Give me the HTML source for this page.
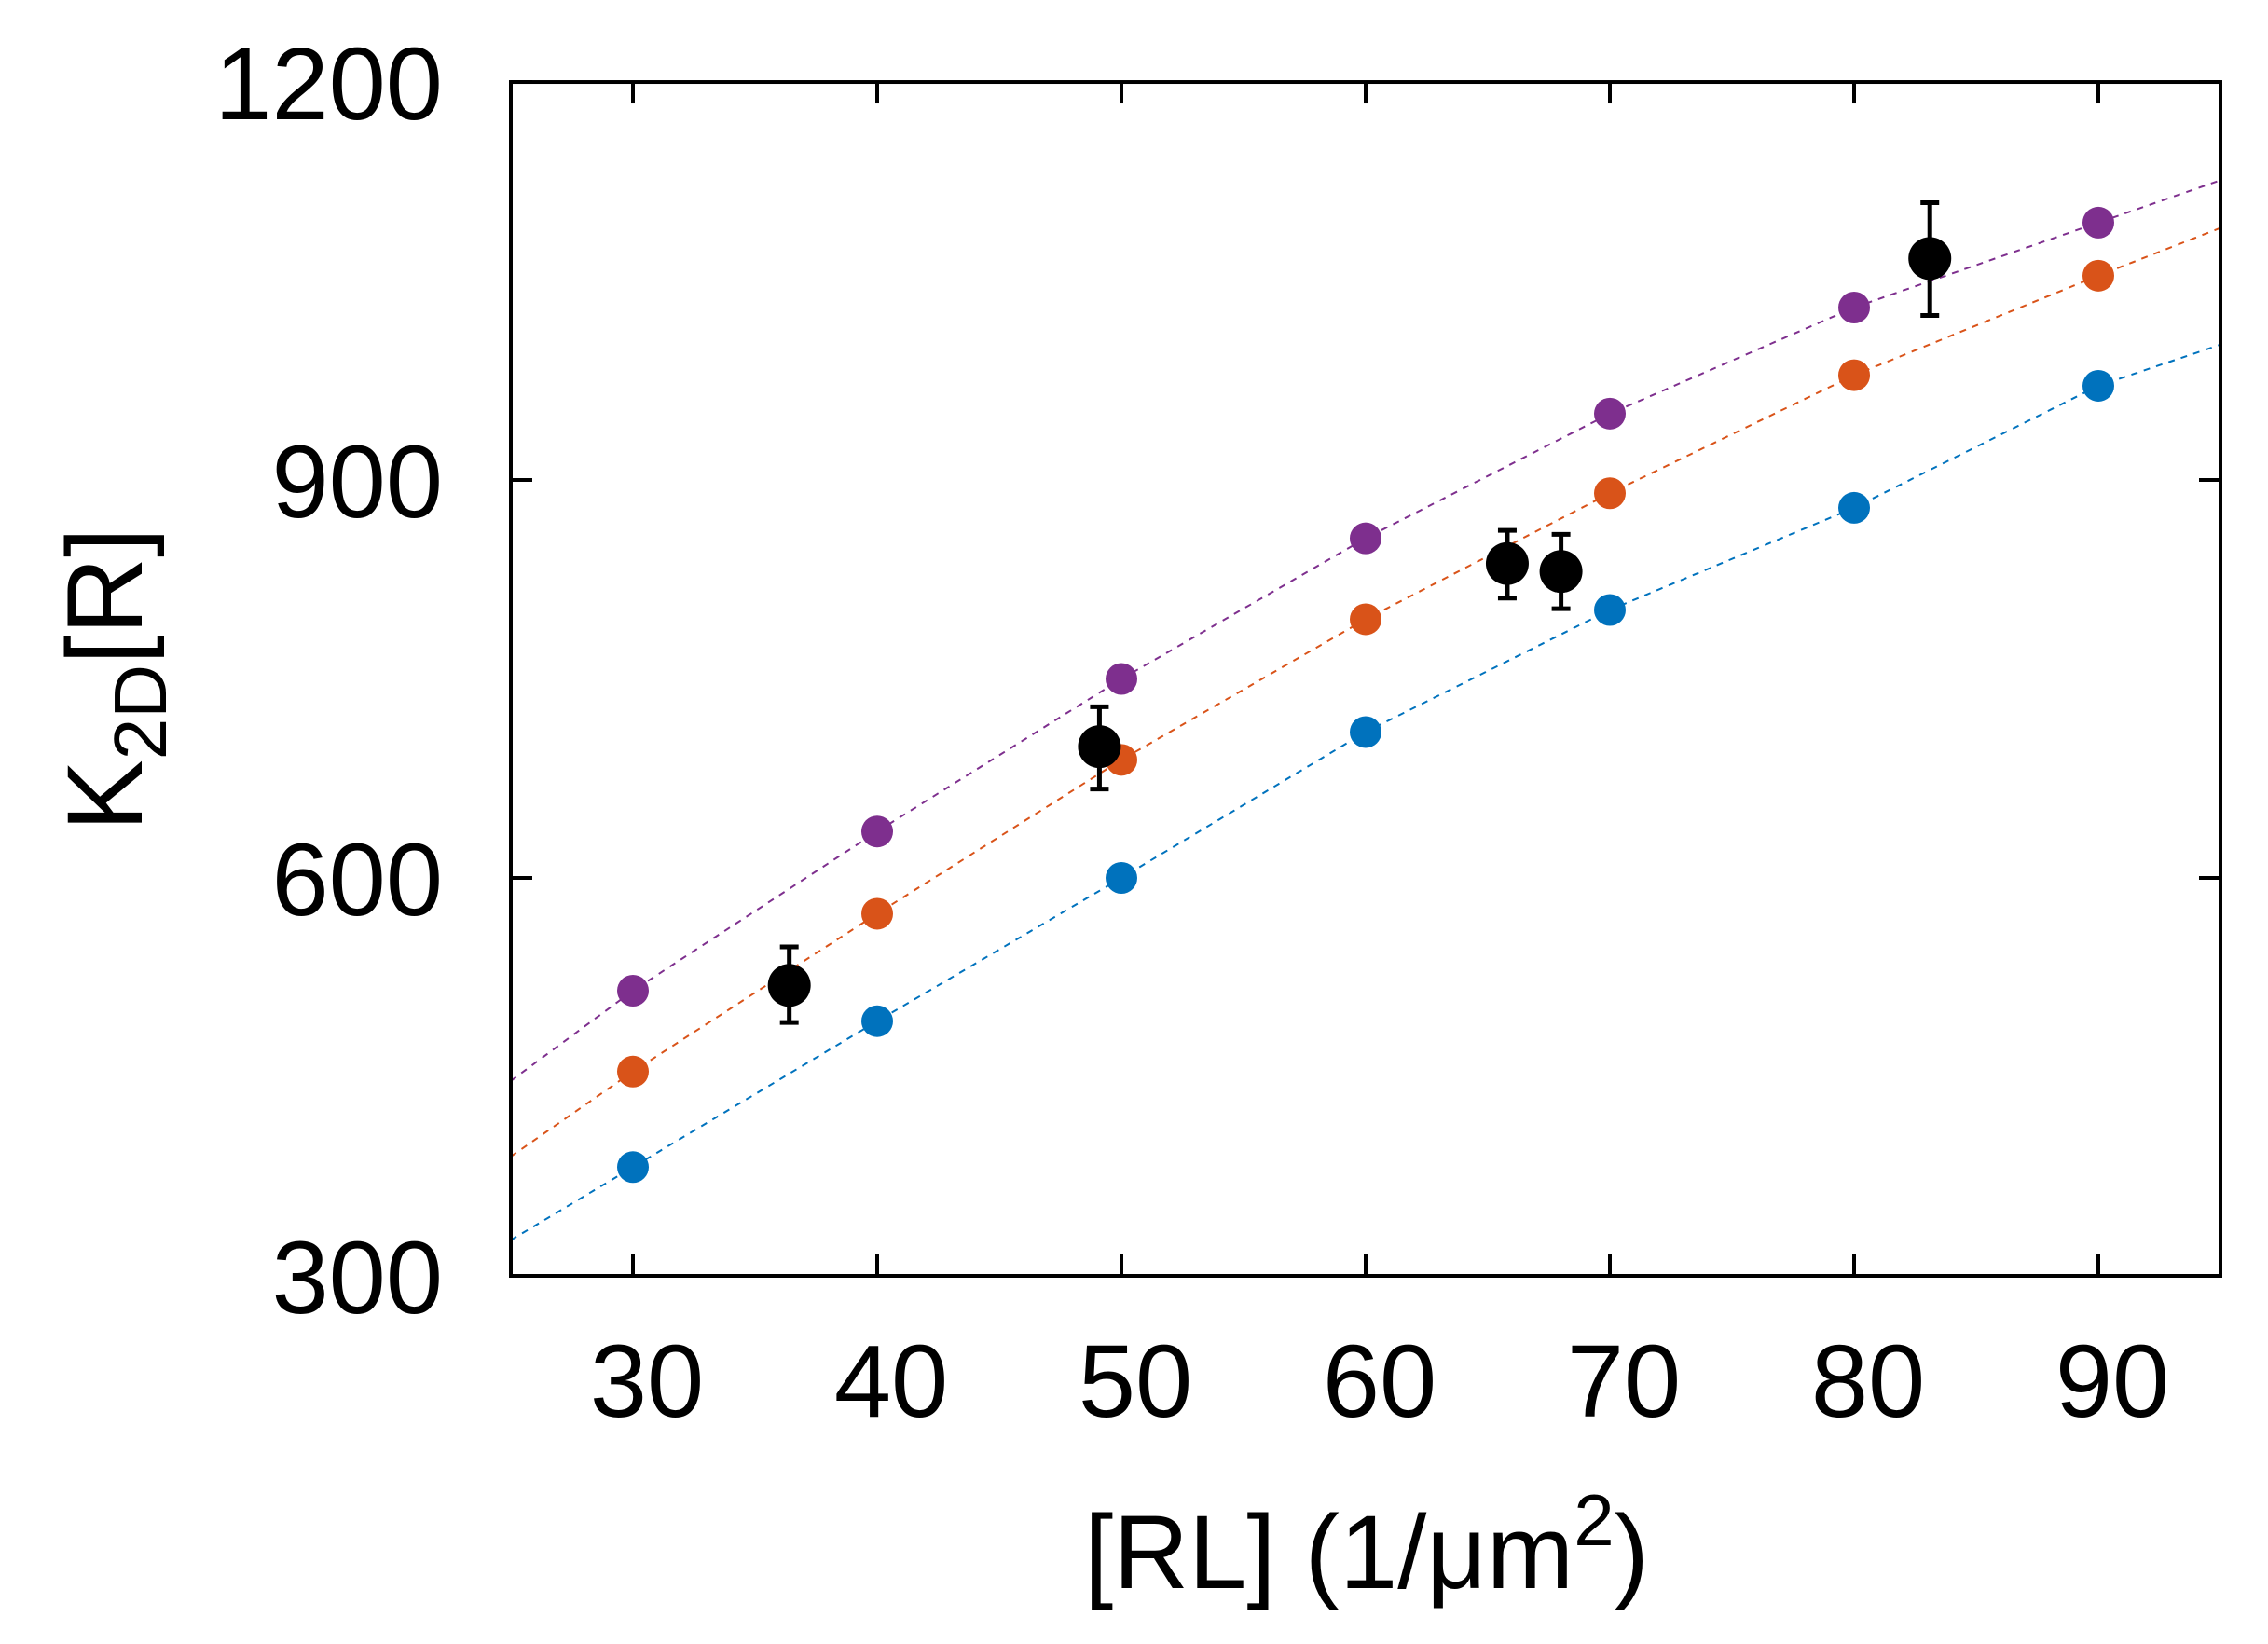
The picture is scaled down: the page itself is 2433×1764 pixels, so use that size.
<!DOCTYPE html>
<html><head><meta charset="utf-8"><style>
html,body{margin:0;padding:0;background:#fff;}
svg{display:block;}
text{font-family:"Liberation Sans",sans-serif;fill:#000;}
</style></head><body>
<svg id="s" width="2433" height="1764" viewBox="0 0 2433 1764" xmlns="http://www.w3.org/2000/svg"></svg>
<script>
const s=document.getElementById('s');
const X=v=>548+(v-25)*26.2, Y=v=>1369-(v-300)*1.4233;
let h='';
const xs=[30,40,50,60,70,80,90];
const P=[['#7E2F8E',[447,515,635,750,856,950,1030,1094,1126]],
['#D95319',[390,454,573,689,795,890,979,1054,1090]],
['#0072BD',[327,382,492,600,710,802,879,971,1002]]];
P.forEach(([c,v])=>{
 const px=[25,...xs,95];
 let d=px.map((x,i)=>(i?'L':'M')+X(x).toFixed(1)+','+Y(v[i]).toFixed(1)).join(' ');
 h+=`<path d="${d}" fill="none" stroke="${c}" stroke-width="2" stroke-dasharray="7,7"/>`;
});
P.forEach(([c,v])=>{xs.forEach((x,i)=>{h+=`<circle cx="${X(x)}" cy="${Y(v[i+1])}" r="17" fill="${c}"/>`;});});
const B=[[36.4,519,491,548],[49.1,699,667,729],[65.8,837,811,862],[68,831,803,859],[83.1,1067,1024,1109]];
B.forEach(([x,y,lo,hi])=>{const cx=X(x);
 h+=`<line x1="${cx}" x2="${cx}" y1="${Y(lo)}" y2="${Y(hi)}" stroke="#000" stroke-width="5"/>`;
 [lo,hi].forEach(e=>h+=`<line x1="${cx-10}" x2="${cx+10}" y1="${Y(e)}" y2="${Y(e)}" stroke="#000" stroke-width="5"/>`);
 h+=`<circle cx="${cx}" cy="${Y(y)}" r="23" fill="#000"/>`;});
h+=`<rect x="548" y="${Y(1200)}" width="${X(95)-548}" height="${1369-Y(1200)}" fill="none" stroke="#000" stroke-width="4"/>`;
xs.forEach(x=>{h+=`<line x1="${X(x)}" x2="${X(x)}" y1="1369" y2="1346" stroke="#000" stroke-width="4"/><line x1="${X(x)}" x2="${X(x)}" y1="${Y(1200)}" y2="${Y(1200)+23}" stroke="#000" stroke-width="4"/>`;
 h+=`<text x="${X(x)+15}" y="1520" font-size="110" text-anchor="middle">${x}</text>`;});
[300,600,900,1200].forEach(v=>{h+=`<line x1="548" x2="571" y1="${Y(v)}" y2="${Y(v)}" stroke="#000" stroke-width="4"/><line x1="${X(95)}" x2="${X(95)-23}" y1="${Y(v)}" y2="${Y(v)}" stroke="#000" stroke-width="4"/>`;
 h+=`<text x="475" y="${Y(v)+40}" font-size="110" text-anchor="end">${v}</text>`;});
h+=`<text x="1466" y="1704" font-size="112" text-anchor="middle">[RL] (1/μm<tspan dy="-46" font-size="78">2</tspan><tspan dy="46">)</tspan></text>`;
h+=`<text transform="translate(152,729) rotate(-90)" font-size="115" text-anchor="middle">K<tspan dy="26" font-size="80">2D</tspan><tspan dy="-26">[R]</tspan></text>`;
s.innerHTML=h;
</script>
</body></html>
